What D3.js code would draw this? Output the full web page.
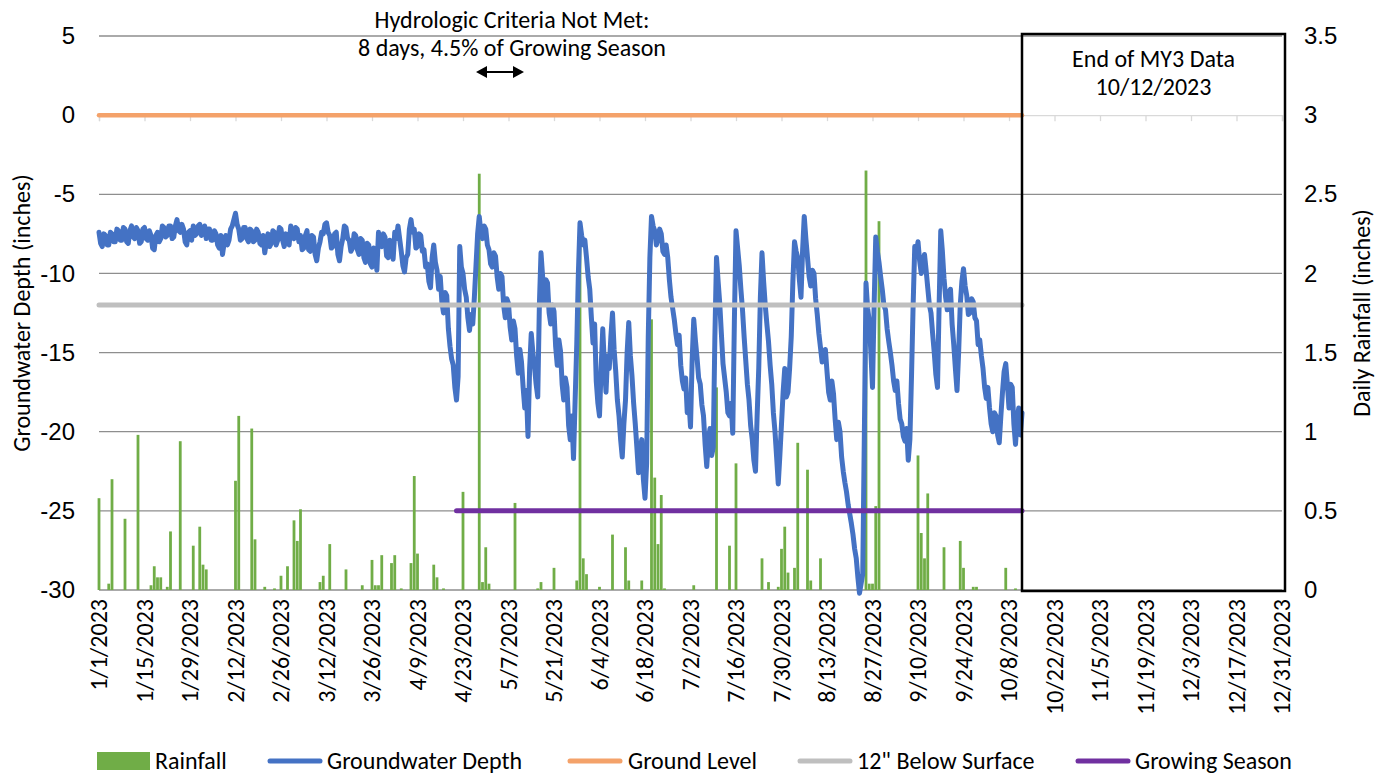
<!DOCTYPE html>
<html><head><meta charset="utf-8">
<script src="https://cdn.jsdelivr.net/npm/d3@7"></script>
<style>
html,body{margin:0;padding:0;background:#fff;}
svg{display:block;font-family:Carlito,Lato,"Liberation Sans",sans-serif;}
</style></head>
<body>
<svg id="chart" width="1389" height="778"></svg>
<script>
// ---------------- DATA ----------------
const gwStartDate = "2023-01-01";
// groundwater depth (inches), morning reading, 1/1/2023 .. 10/12/2023
const gwDepthAM = [
-7.4,-8.3,-7.6,-8.2,-7.5,-8.0,-7.3,-7.9,-7.2,-8.1,-7.0,-7.8,-7.3,-8.0,-7.1,-7.9,-7.6,-8.5,-7.4,-7.8,
-7.1,-7.6,-7.0,-7.7,-6.6,-7.4,-7.2,-8.2,-7.3,-7.0,-7.5,-6.9,-7.4,-7.8,-7.2,-7.9,-7.5,-8.4,-8.8,-7.6,
-7.9,-7.0,-6.2,-7.2,-7.8,-7.1,-8.0,-7.3,-7.9,-7.4,-8.2,-8.7,-7.5,-8.1,-7.4,-7.9,-7.2,-8.3,-7.6,-7.0,
-7.8,-7.2,-7.6,-8.4,-7.3,-8.6,-7.7,-9.2,-8.0,-7.5,-6.8,-7.6,-8.3,-7.4,-9.2,-7.8,-7.1,-7.9,-8.4,-7.6,
-8.8,-7.9,-9.3,-8.2,-9.6,-8.5,-7.4,-8.3,-7.7,-9.0,-8.1,-7.4,-7.0,-8.6,-9.9,-8.8,-6.6,-7.2,-8.3,-7.6,
-8.5,-9.4,-10.9,-8.2,-9.8,-10.2,-12.5,-11.4,-14.6,-15.8,-18.0,-8.3,-10.0,-11.5,-13.6,-13.2,-9.5,-6.4,-7.8,-7.2,
-8.5,-9.6,-8.9,-11.0,-10.2,-12.8,-11.9,-14.2,-13.5,-16.3,-15.6,-18.5,-20.3,-13.8,-15.9,-17.8,-8.7,-11.8,-10.6,-13.2,
-12.4,-15.8,-14.9,-18.0,-17.2,-20.5,-21.7,-14.5,-6.8,-8.2,-9.0,-11.0,-14.4,-16.8,-19.0,-13.5,-17.5,-16.0,-12.5,-16.2,
-19.0,-21.6,-18.0,-13.1,-16.5,-19.5,-22.6,-20.5,-24.2,-14.0,-6.4,-7.3,-7.8,-7.5,-8.8,-9.0,-11.5,-12.9,-14.5,-15.8,
-17.3,-18.8,-19.7,-12.9,-15.3,-17.0,-19.0,-22.2,-19.8,-21.0,-9.0,-11.9,-15.7,-17.5,-19.0,-20.1,-7.3,-9.5,-12.3,-15.5,
-18.0,-20.5,-22.5,-16.0,-8.7,-12.0,-14.3,-17.0,-20.0,-23.3,-19.5,-16.0,-17.5,-14.0,-8.0,-9.0,-11.5,-6.4,-9.0,-10.8,
-10.0,-12.6,-14.7,-15.5,-16.2,-18.0,-17.6,-20.5,-20.0,-22.5,-23.8,-25.2,-26.5,-28.0,-30.2,-29.0,-10.6,-13.0,-17.2,-7.7,
-9.3,-11.0,-12.3,-14.3,-15.8,-17.4,-18.2,-19.5,-20.6,-21.8,-16.5,-8.3,-8.0,-10.0,-8.8,-10.9,-12.5,-15.0,-17.2,-7.3,
-10.3,-12.3,-11.0,-14.5,-17.4,-12.0,-9.7,-11.4,-12.5,-11.8,-13.0,-14.2,-16.0,-17.9,-18.5,-20.0,-19.0,-20.7,-17.5,-15.7,
-18.5,-17.2,-20.8,-18.5,-18.8
];
// groundwater depth (inches), afternoon reading, 1/1/2023 .. 10/11/2023
const gwDepthPM = [
-8.1,-7.5,-8.2,-7.4,-8.0,-7.2,-7.9,-7.1,-8.0,-7.3,-7.7,-7.1,-8.1,-7.2,-7.8,-7.3,-8.4,-7.6,-8.0,-7.0,
-7.7,-7.0,-7.8,-7.0,-7.3,-6.9,-8.0,-7.4,-7.9,-7.6,-7.0,-7.6,-7.0,-7.2,-7.9,-7.3,-8.2,-7.6,-8.1,-8.2,
-7.2,-6.6,-6.9,-7.9,-7.1,-7.8,-7.2,-8.0,-7.2,-8.1,-7.6,-8.0,-8.3,-7.3,-8.2,-7.1,-7.9,-7.5,-8.2,-7.7,
-7.1,-8.0,-8.5,-7.6,-8.5,-7.6,-8.8,-8.4,-7.4,-6.9,-7.4,-8.4,-7.5,-8.8,-8.3,-7.0,-7.8,-8.6,-7.5,-8.5,
-7.8,-9.0,-8.1,-9.4,-8.4,-9.8,-8.2,-7.5,-8.9,-7.9,-9.1,-7.8,-7.8,-9.5,-9.0,-7.2,-7.4,-8.4,-7.5,-8.6,
-9.6,-10.5,-9.0,-9.3,-11.0,-11.8,-11.2,-13.5,-15.4,-17.2,-16.5,-9.6,-11.0,-12.8,-12.6,-11.5,-7.5,-7.4,-7.0,-8.2,
-9.4,-8.7,-10.2,-10.0,-12.0,-11.6,-13.4,-13.0,-15.2,-14.8,-17.2,-17.4,-16.0,-15.0,-17.0,-12.0,-10.2,-10.4,-12.5,-12.0,
-14.6,-14.2,-17.0,-16.6,-19.6,-19.0,-18.0,-10.0,-7.6,-7.9,-10.2,-12.8,-13.2,-18.2,-16.0,-15.8,-15.2,-14.0,-14.8,-18.0,
-20.5,-19.5,-15.0,-15.2,-18.2,-21.0,-21.2,-23.0,-22.0,-9.0,-7.0,-8.2,-7.2,-8.6,-8.2,-10.4,-12.2,-13.8,-13.9,-16.8,
-16.6,-18.0,-15.5,-14.2,-16.6,-18.3,-20.8,-20.5,-21.5,-14.0,-10.5,-13.8,-16.6,-18.8,-18.2,-13.0,-8.4,-11.0,-14.0,-17.0,
-19.6,-21.8,-19.0,-11.5,-10.5,-13.2,-15.8,-18.8,-21.6,-21.5,-17.5,-17.8,-16.0,-10.5,-8.6,-10.4,-8.5,-7.8,-10.2,-9.8,
-11.6,-13.8,-15.6,-14.8,-17.5,-16.8,-19.2,-19.4,-21.6,-23.2,-24.6,-25.8,-27.4,-29.2,-29.6,-20.0,-12.2,-15.0,-12.0,-8.6,
-10.2,-12.0,-13.5,-15.0,-16.8,-16.8,-19.2,-20.3,-19.8,-20.5,-12.0,-8.8,-9.2,-9.2,-9.8,-12.0,-13.8,-16.4,-12.0,-8.6,
-11.5,-11.2,-13.2,-16.0,-15.0,-10.5,-10.8,-12.6,-11.6,-12.8,-14.5,-15.2,-17.2,-17.2,-19.5,-18.8,-20.2,-19.0,-16.2,-17.0,
-17.0,-19.5,-19.2,-20.2
];
// daily rainfall (inches), only days with rain
const rainDates = ["2023-01-01","2023-01-04","2023-01-05","2023-01-09","2023-01-13","2023-01-17","2023-01-18","2023-01-19","2023-01-20","2023-01-22","2023-01-23","2023-01-26","2023-01-30","2023-02-01","2023-02-02","2023-02-03","2023-02-12","2023-02-13","2023-02-17","2023-02-18","2023-02-21","2023-02-24","2023-02-26","2023-02-28","2023-03-02","2023-03-03","2023-03-04","2023-03-10","2023-03-11","2023-03-13","2023-03-18","2023-03-23","2023-03-26","2023-03-27","2023-03-28","2023-03-29","2023-04-01","2023-04-02","2023-04-04","2023-04-07","2023-04-08","2023-04-09","2023-04-14","2023-04-15","2023-04-17","2023-04-23","2023-04-28","2023-04-29","2023-04-30","2023-05-01","2023-05-09","2023-05-16","2023-05-17","2023-05-21","2023-05-28","2023-05-29","2023-05-30","2023-05-31","2023-06-04","2023-06-08","2023-06-12","2023-06-13","2023-06-17","2023-06-20","2023-06-21","2023-06-22","2023-06-23","2023-06-24","2023-07-03","2023-07-10","2023-07-14","2023-07-16","2023-07-24","2023-07-26","2023-07-29","2023-07-30","2023-07-31","2023-08-01","2023-08-03","2023-08-04","2023-08-07","2023-08-08","2023-08-11","2023-08-25","2023-08-26","2023-08-27","2023-08-28","2023-08-29","2023-09-10","2023-09-11","2023-09-12","2023-09-13","2023-09-18","2023-09-23","2023-09-24","2023-09-27","2023-09-28","2023-10-07","2023-10-10"];
const rainValues = [0.58,0.04,0.70,0.45,0.98,0.03,0.15,0.08,0.08,0.02,0.37,0.94,0.28,0.40,0.16,0.13,0.69,1.10,1.02,0.32,0.02,0.01,0.09,0.15,0.44,0.31,0.51,0.05,0.09,0.29,0.13,0.03,0.19,0.03,0.03,0.22,0.17,0.22,0.01,0.17,0.72,0.23,0.16,0.08,0.01,0.62,2.63,0.05,0.27,0.04,0.55,0.01,0.05,0.14,0.06,2.17,0.20,0.10,0.02,0.35,0.27,0.06,0.06,1.71,0.71,0.29,0.60,0.01,0.03,1.28,0.28,0.80,0.20,0.05,0.02,0.26,0.40,0.11,0.14,0.93,0.76,0.06,0.20,2.65,0.04,0.04,0.53,2.33,0.85,0.36,0.20,0.61,0.27,0.31,0.14,0.02,0.02,0.14,0.01];
const groundLevel = 0;
const belowSurface12 = -12;
const growingSeasonLevel = -25;
const growingSeasonStart = "2023-04-21";
const dataEndDate = "2023-10-12";
const axisStart = "2023-01-01", axisEnd = "2023-12-31";
const leftTicks = [5,0,-5,-10,-15,-20,-25,-30];
const rightTicks = [3.5,3,2.5,2,1.5,1,0.5,0];
const xTickStepDays = 14;
const legendLabels = ["Rainfall","Groundwater Depth","Ground Level","12\" Below Surface","Growing Season"];
const annotationLines = ["Hydrologic Criteria Not Met:","8 days, 4.5% of Growing Season"];
const boxLines = ["End of MY3 Data","10/12/2023"];

// ---------------- CHART ----------------
const parse = d3.utcParse("%Y-%m-%d");
const fmt = d => (d.getUTCMonth()+1)+"/"+d.getUTCDate()+"/"+d.getUTCFullYear();
const svg = d3.select("#chart");
const colors = {rain:"#70AD47", gw:"#4472C4", ground:"#F4A26A", below:"#BFBFBF", grow:"#7030A0"};

// choose font size so text width matches the reference
const probe = svg.append("text").attr("font-size", 20).text(annotationLines[0]);
const probeW = probe.node().getComputedTextLength();
probe.remove();
const FS = Math.max(16, Math.min(28, 20 * 275 / probeW));

const x = d3.scaleUtc().domain([parse(axisStart), parse(axisEnd)]).range([99, 1282]);
const yL = d3.scaleLinear().domain([-30, 5]).range([590, 36]);
const yR = d3.scaleLinear().domain([0, 3.5]).range([590, 36]);

// gridlines
svg.append("g").selectAll("line").data(leftTicks.filter(v => v !== 0)).join("line")
  .attr("x1", x.range()[0]).attr("x2", x.range()[1])
  .attr("y1", d => yL(d)).attr("y2", d => yL(d))
  .attr("stroke", "#8e8e8e").attr("stroke-width", 1.3);

// x axis line at 0 with ticks
const xTicks = d3.utcDay.range(parse(axisStart), d3.utcDay.offset(parse(axisEnd), 1), 1)
  .filter((d, i) => i % xTickStepDays === 0);
const xAxis = d3.axisBottom(x).tickValues(xTicks).tickSize(6).tickFormat("");
const gx = svg.append("g").attr("transform", `translate(0,${yL(0)})`).call(xAxis);
gx.select(".domain").attr("stroke", "#d9d9d9").attr("stroke-width", 1.3);
gx.selectAll(".tick line").attr("stroke", "#d9d9d9").attr("stroke-width", 1.3);

// x labels (rotated) at bottom
svg.append("g").selectAll("text").data(xTicks).join("text")
  .attr("transform", d => `translate(${x(d)},599) rotate(-90)`)
  .attr("text-anchor", "end").attr("dy", "0.35em")
  .attr("font-size", FS).attr("fill", "#000").text(fmt);

// left axis labels
const gl = svg.append("g").attr("transform", "translate(81,0)")
  .call(d3.axisLeft(yL).tickValues(leftTicks).tickSize(0).tickPadding(6).tickFormat(d => String(d)));
gl.select(".domain").remove();
gl.selectAll("text").attr("font-size", FS).attr("font-family", null).attr("fill", "#000");

// right axis labels
const gr = svg.append("g").attr("transform", "translate(1298,0)")
  .call(d3.axisRight(yR).tickValues(rightTicks).tickSize(0).tickPadding(6).tickFormat(d => String(d)));
gr.select(".domain").remove();
gr.selectAll("text").attr("font-size", FS).attr("font-family", null).attr("fill", "#000");

// axis titles
svg.append("text").attr("transform", `translate(22,${(yL(5)+yL(-30))/2}) rotate(-90)`)
  .attr("text-anchor", "middle").attr("dy", "0.35em").attr("font-size", FS).text("Groundwater Depth (inches)");
svg.append("text").attr("transform", `translate(1362,${(yL(5)+yL(-30))/2}) rotate(-90)`)
  .attr("text-anchor", "middle").attr("dy", "0.35em").attr("font-size", FS).text("Daily Rainfall (inches)");

// rainfall bars
const barW = 2.8;
svg.append("g").selectAll("rect").data(rainDates.map((d, i) => ({date: parse(d), v: rainValues[i]}))).join("rect")
  .attr("x", d => x(d.date) - barW/2).attr("width", barW)
  .attr("y", d => yR(d.v)).attr("height", d => yR(0) - yR(d.v))
  .attr("fill", colors.rain);

// groundwater line (two readings per day)
const gwData = [];
gwDepthAM.forEach((v, i) => {
  const day = d3.utcDay.offset(parse(gwStartDate), i);
  gwData.push({date: day, v});
  if (i < gwDepthPM.length) gwData.push({date: d3.utcHour.offset(day, 12), v: gwDepthPM[i]});
});
svg.append("path").datum(gwData)
  .attr("d", d3.line().x(d => x(d.date)).y(d => yL(d.v)))
  .attr("fill", "none").attr("stroke", colors.gw).attr("stroke-width", 5)
  .attr("stroke-linejoin", "round").attr("stroke-linecap", "round");

// reference lines
function hline(level, start, color, w) {
  svg.append("path").datum([parse(start), parse(dataEndDate)])
    .attr("d", d3.line().x(d => x(d)).y(() => yL(level)))
    .attr("fill", "none").attr("stroke", color).attr("stroke-width", w).attr("stroke-linecap", "round");
}
hline(groundLevel, gwStartDate, colors.ground, 4.5);
hline(belowSurface12, gwStartDate, colors.below, 5);
hline(growingSeasonLevel, growingSeasonStart, colors.grow, 5);

// End of data box
const bx0 = x(parse(dataEndDate));
svg.append("rect").attr("x", bx0).attr("y", 34).attr("width", 1285 - bx0).attr("height", 557)
  .attr("fill", "none").attr("stroke", "#000").attr("stroke-width", 2.5);
svg.append("g").selectAll("text").data(boxLines).join("text")
  .attr("x", (bx0 + 1285)/2).attr("y", (d, i) => 59 + i*28).attr("dy", "0.35em")
  .attr("text-anchor", "middle").attr("font-size", FS).text(d => d);

// annotation
svg.append("g").selectAll("text").data(annotationLines).join("text")
  .attr("x", 512).attr("y", (d, i) => 20 + i*28).attr("dy", "0.35em")
  .attr("text-anchor", "middle").attr("font-size", FS).text(d => d);
const ay = 72, ax1 = 476, ax2 = 524;
svg.append("line").attr("x1", ax1 + 8).attr("x2", ax2 - 8).attr("y1", ay).attr("y2", ay)
  .attr("stroke", "#000").attr("stroke-width", 2);
svg.append("path").attr("d", `M${ax1},${ay} L${ax1+11},${ay-6} L${ax1+11},${ay+6} Z M${ax2},${ay} L${ax2-11},${ay-6} L${ax2-11},${ay+6} Z`)
  .attr("fill", "#000");

// legend
const leg = svg.append("g");
const legItems = [
  {label: legendLabels[0], type: "rect", color: colors.rain, x: 97, tx: 155},
  {label: legendLabels[1], type: "line", color: colors.gw, x: 268, tx: 327},
  {label: legendLabels[2], type: "line", color: colors.ground, x: 568, tx: 628},
  {label: legendLabels[3], type: "line", color: colors.below, x: 798, tx: 857},
  {label: legendLabels[4], type: "line", color: colors.grow, x: 1076, tx: 1135}
];
const ly = 761;
legItems.forEach(it => {
  if (it.type === "rect") {
    leg.append("rect").attr("x", it.x).attr("y", ly - 9).attr("width", 53).attr("height", 18).attr("fill", it.color);
  } else {
    leg.append("line").attr("x1", it.x + 2).attr("x2", it.x + 52).attr("y1", ly).attr("y2", ly)
      .attr("stroke", it.color).attr("stroke-width", 5).attr("stroke-linecap", "round");
  }
  leg.append("text").attr("x", it.tx).attr("y", ly).attr("dy", "0.35em").attr("font-size", FS).text(it.label);
});
</script>
</body></html>
